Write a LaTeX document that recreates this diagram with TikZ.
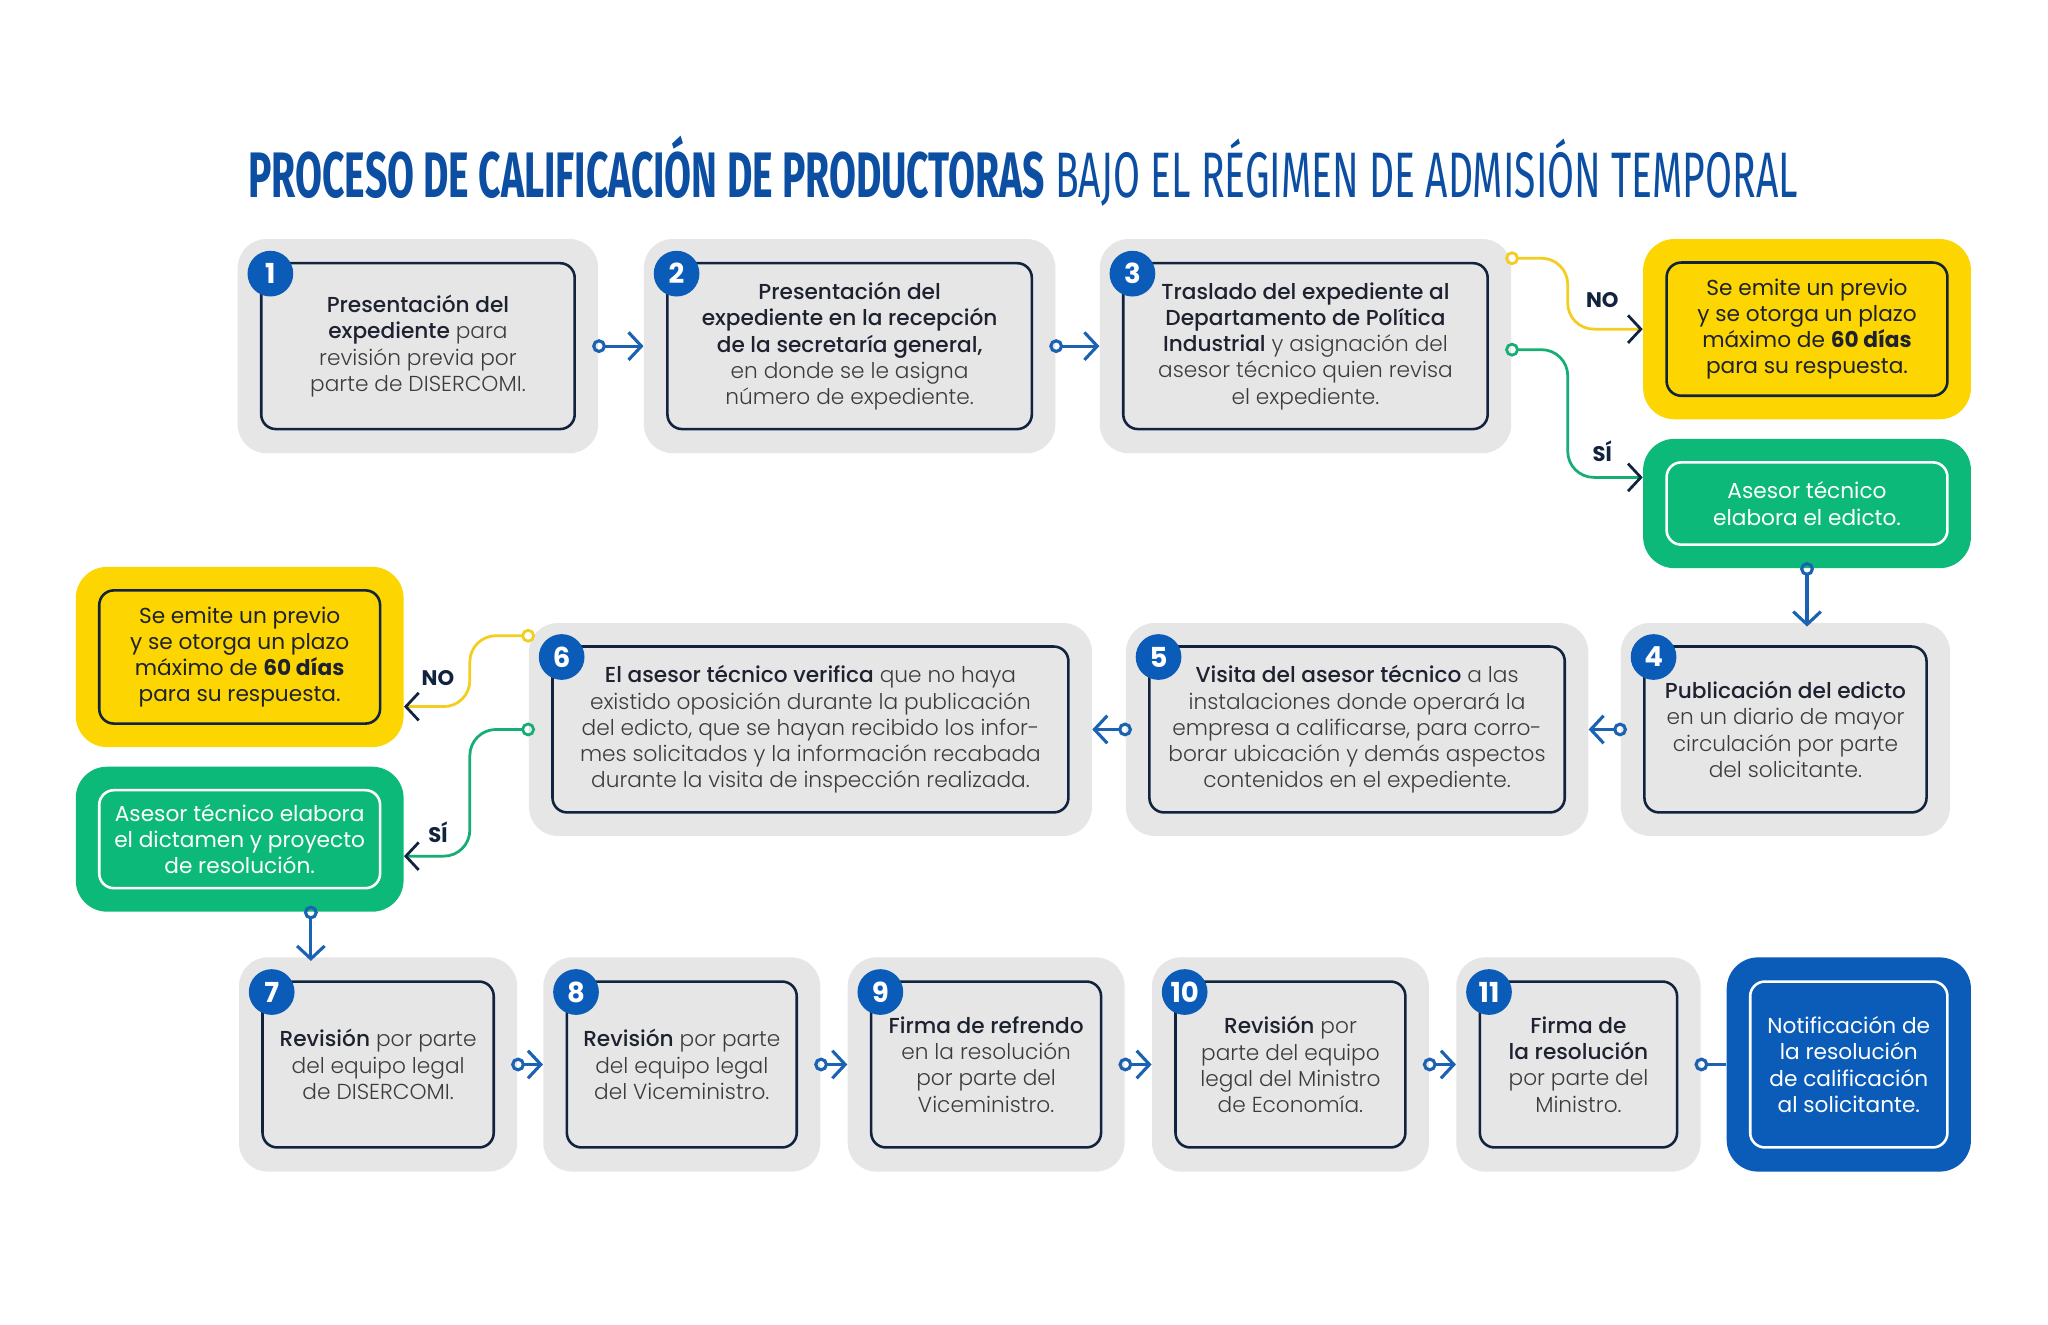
\documentclass[tikz,border=0pt]{standalone}
\usepackage{fontspec}
\setmainfont{Poppins}[UprightFont=* Light, BoldFont=* Medium]
\newfontfamily\signfont{Poppins}
\newfontfamily\titlefont{Fira Sans}
\usepackage{xcolor}
\definecolor{boxgray}{HTML}{E6E6E6}
\definecolor{navy}{HTML}{12233F}
\definecolor{ink}{HTML}{1E2230}
\definecolor{textgray}{HTML}{3C3C3C}
\definecolor{titleblue}{HTML}{0B4EA2}
\definecolor{badgeblue}{HTML}{0A5CB8}
\definecolor{lineblue}{HTML}{1B62B3}
\definecolor{signyellow}{HTML}{FDD500}
\definecolor{signgreen}{HTML}{0DB978}
\definecolor{noyellow}{HTML}{F3CD1F}
\definecolor{yesgreen}{HTML}{17AE76}
\usepackage{tikz}
\usetikzlibrary{arrows.meta, positioning, calc}

\def\px{0.025cm}
\newcommand{\bodyfont}{\fontsize{11.8}{14.3}\selectfont}
\newcommand{\keyw}[1]{{\bfseries\color{ink}#1}}

\begin{document}
\begin{tikzpicture}[x=\px, y=-\px,
	outerbox/.style 2 args={fill=boxgray, rounded corners=0.55cm, minimum width=#1*\px, minimum height=#2*\px, inner sep=0},
	innerbox/.style 2 args={draw=navy, line width=1.4pt, fill=boxgray, rounded corners=0.28cm, minimum width=#1*\px, minimum height=#2*\px, align=center, inner sep=2pt, font=\bodyfont, text=textgray},
	nobox/.style 2 args={fill=signyellow, rounded corners=0.6cm, minimum width=#1*\px, minimum height=#2*\px, inner sep=0},
	yesbox/.style 2 args={fill=signgreen, rounded corners=0.6cm, minimum width=#1*\px, minimum height=#2*\px, inner sep=0},
	endbox/.style 2 args={fill=badgeblue, rounded corners=0.6cm, minimum width=#1*\px, minimum height=#2*\px, inner sep=0},
	signtext/.style 2 args={line width=1.4pt, rounded corners=0.28cm, minimum width=#1*\px, minimum height=#2*\px, align=center, inner sep=2pt, font=\signfont\fontsize{11.8}{14.3}\selectfont},
	badge/.style={circle, fill=badgeblue, text=white, minimum size=35*\px, inner sep=0, font=\signfont\bfseries\fontsize{15}{15}\selectfont},
	lbl/.style={text=navy, inner sep=1pt, font=\signfont\bfseries\fontsize{11.5}{12}\selectfont},
	flow/.style={draw=lineblue, line width=1.7pt, shorten <=-3.5pt, arrows={Circle[open, length=7.5pt, width=7.5pt]-Straight Barb[length=7pt, width=15pt]}},
	endflow/.style={draw=lineblue, line width=1.7pt, shorten <=-3.5pt, arrows={Circle[open, length=7.5pt, width=7.5pt]-}},
	noflow/.style={draw=noyellow, line width=1.5pt, rounded corners=0.5cm, shorten <=-3.5pt, arrows={Circle[open, length=7.5pt, width=7.5pt]-Straight Barb[length=7pt, width=15pt, color=navy]}},
	yesflow/.style={draw=yesgreen, line width=1.5pt, rounded corners=0.5cm, shorten <=-3.5pt, arrows={Circle[open, length=7.5pt, width=7.5pt]-Straight Barb[length=7pt, width=15pt, color=navy]}}
]

\fill[white] (0,0) rectangle (1568,1014.4);
\useasboundingbox (0,0) rectangle (1568,1014.4);

% title
\node[anchor=base west, inner sep=0, text=titleblue, font=\titlefont\fontsize{35}{35}\selectfont] (title) at (190,151)
	{\resizebox{29.65cm}{\height}{\textbf{PROCESO DE CALIFICACIÓN DE PRODUCTORAS} BAJO EL RÉGIMEN DE ADMISIÓN TEMPORAL}};

% row 1
\node[outerbox={276}{164}] (o1) at (320,265) {};
\node[innerbox={240}{127}] (i1) at (o1) {\keyw{Presentación del}\\ \keyw{expediente} para\\ revisión previa por\\ parte de DISERCOMI.};
\node[outerbox={315}{164}] (o2) at (650.5,265) {};
\node[innerbox={279}{127}] (i2) at (o2) {\keyw{Presentación del}\\ \keyw{expediente en la recepción}\\ \keyw{de la secretaría general,}\\ en donde se le asigna\\ número de expediente.};
\node[outerbox={315}{164}] (o3) at (999.5,265) {};
\node[innerbox={279}{127}] (i3) at (o3) {\keyw{Traslado del expediente al}\\ \keyw{Departamento de Política}\\ \keyw{Industrial} y asignación del\\ asesor técnico quien revisa\\ el expediente.};

\node[nobox={251}{138}] (no1) at (1383.5,252) {};
\node[signtext={215}{102}, draw=navy, text=ink] (no1t) at (no1) {Se emite un previo\\ y se otorga un plazo\\ máximo de \textbf{60 días}\\ para su respuesta.};
\node[yesbox={251}{99}] (yes1) at (1383.5,385.5) {};
\node[signtext={215}{63}, draw=white, text=white] (yes1t) at (yes1) {Asesor técnico\\ elabora el edicto.};

% row 2
\node[outerbox={252}{163}] (o4) at (1367,558.5) {};
\node[innerbox={216}{127}] (i4) at (o4) {\keyw{Publicación del edicto}\\ en un diario de mayor\\ circulación por parte\\ del solicitante.};
\node[outerbox={354}{163}] (o5) at (1039,558.5) {};
\node[innerbox={318}{127}] (i5) at (o5) {\keyw{Visita del asesor técnico} a las\\ instalaciones donde operará la\\ empresa a calificarse, para corro-\\ borar ubicación y demás aspectos\\ contenidos en el expediente.};
\node[outerbox={431}{163}] (o6) at (620.5,558.5) {};
\node[innerbox={395}{127}] (i6) at (o6) {\keyw{El asesor técnico verifica} que no haya\\ existido oposición durante la publicación\\ del edicto, que se hayan recibido los infor-\\ mes solicitados y la información recabada\\ durante la visita de inspección realizada.};

\node[nobox={251}{138}] (no2) at (183.5,503) {};
\node[signtext={215}{102}, draw=navy, text=ink] (no2t) at (no2) {Se emite un previo\\ y se otorga un plazo\\ máximo de \textbf{60 días}\\ para su respuesta.};
\node[yesbox={251}{111}] (yes2) at (183.5,642.5) {};
\node[signtext={215}{75}, draw=white, text=white] (yes2t) at (yes2) {Asesor técnico elabora\\ el dictamen y proyecto\\ de resolución.};

% row 3
\node[outerbox={213}{164}] (o7) at (289.5,815) {};
\node[innerbox={177}{127}] (i7) at (o7) {\keyw{Revisión} por parte\\ del equipo legal\\ de DISERCOMI.};
\node[outerbox={212}{164}] (o8) at (522,815) {};
\node[innerbox={176}{127}] (i8) at (o8) {\keyw{Revisión} por parte\\ del equipo legal\\ del Viceministro.};
\node[outerbox={212}{164}] (o9) at (755,815) {};
\node[innerbox={176}{127}] (i9) at (o9) {\keyw{Firma de refrendo}\\ en la resolución\\ por parte del\\ Viceministro.};
\node[outerbox={212}{164}] (o10) at (988,815) {};
\node[innerbox={176}{127}] (i10) at (o10) {\keyw{Revisión} por\\ parte del equipo\\ legal del Ministro\\ de Economía.};
\node[outerbox={187}{164}] (o11) at (1208.5,815) {};
\node[innerbox={151}{127}] (i11) at (o11) {\keyw{Firma de}\\ \keyw{la resolución}\\ por parte del\\ Ministro.};
\node[endbox={187}{164}] (fin) at (1415.5,815) {};
\node[signtext={151}{127}, draw=white, text=white] (fint) at (fin) {Notificación de\\ la resolución\\ de calificación\\ al solicitante.};

% number badges
\foreach \n in {1,...,11} {
	\node[badge] (b\n) at ($(i\n.north west)+(8,9)$) {\n};
}

% connectors
\draw[flow] (o1.east) -- (o2.west);
\draw[flow] (o2.east) -- (o3.west);
\draw[noflow]  ($(o3.north east)+(0,15)$) -- ++(43,0) |- (no1.west);
\draw[yesflow] ($(o3.north east)+(0,85)$) -- ++(43,0) |- ($(yes1.west)+(0,-20)$);
\node[lbl] (lno1)  at ($(no1.west)+(-31,-22)$) {NO};
\node[lbl] (lyes1) at ($(yes1.west)+(-31,-40)$) {SÍ};

\draw[flow] (yes1.south) -- ($(yes1.south |- o4.north)+(0,3)$);
\draw[flow] (o4.west) -- (o5.east);
\draw[flow] (o5.west) -- (o6.east);

\draw[noflow]  ($(o6.north west)+(0,10)$) -- ++(-45,0) |- ($(no2.east)+(0,38)$);
\draw[yesflow] (o6.west) -- ++(-45,0) |- ($(yes2.east)+(0,13)$);
\node[lbl] (lno2)  at ($(no2.east)+(26,16)$) {NO};
\node[lbl] (lyes2) at ($(yes2.east)+(26,-5)$) {SÍ};

\coordinate (d7) at ($(yes2.south)+(54.5,0)$);
\draw[flow] (d7) -- ($(d7 |- o7.north)+(0,3)$);

\foreach \a/\b in {o7/o8, o8/o9, o9/o10, o10/o11} {
	\draw[flow] (\a.east) -- (\b.west);
}
\draw[endflow] (o11.east) -- (fin.west);

\end{tikzpicture}
\end{document}
